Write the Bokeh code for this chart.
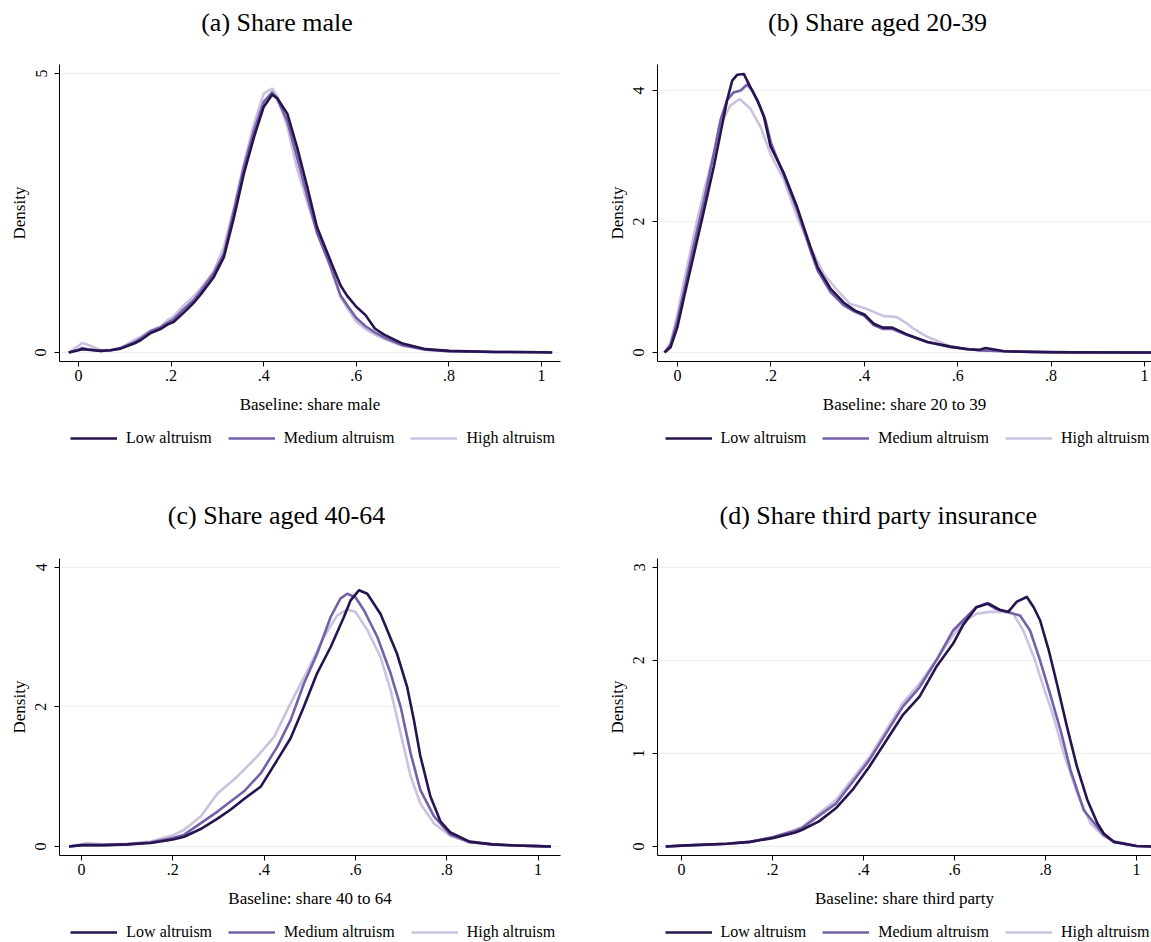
from bokeh.plotting import figure
from bokeh.models import Range1d, FixedTicker, Legend, LegendItem, Label
from bokeh.layouts import column, row
from bokeh.embed import file_html
from bokeh.resources import INLINE

FONT = "Liberation Serif"

series_names = ["Low altruism", "Medium altruism", "High altruism"]
series_colors = ["#26134f", "#7561a8", "#cbc2df"]

x_ticks = [0, 0.2, 0.4, 0.6, 0.8, 1]
x_tick_labels = ["0", ".2", ".4", ".6", ".8", "1"]

titles = ["(a) Share male", "(b) Share aged 20-39", "(c) Share aged 40-64", "(d) Share third party insurance"]
x_labels = ["Baseline: share male", "Baseline: share 20 to 39", "Baseline: share 40 to 64", "Baseline: share third party"]
y_label = "Density"
y_ticks_a = [0, 5]
y_ticks_b = [0, 2, 4]
y_ticks_c = [0, 2, 4]
y_ticks_d = [0, 1, 2, 3]

# ---- (a) share male ----
xa_low = [-0.021, 0.0, 0.008, 0.02, 0.048, 0.07, 0.091, 0.12, 0.134, 0.156, 0.177, 0.192, 0.206, 0.228, 0.25, 0.264, 0.292, 0.314, 0.336, 0.357, 0.379, 0.4, 0.418, 0.429, 0.451, 0.472, 0.494, 0.515, 0.544, 0.566, 0.58, 0.6, 0.62, 0.64, 0.66, 0.7, 0.75, 0.8, 0.9, 1.0, 1.023]
ya_low = [0, 0.04, 0.06, 0.05, 0.03, 0.04, 0.07, 0.16, 0.22, 0.35, 0.42, 0.5, 0.55, 0.72, 0.9, 1.04, 1.35, 1.71, 2.43, 3.2, 3.86, 4.4, 4.62, 4.56, 4.28, 3.68, 2.97, 2.25, 1.65, 1.2, 1.02, 0.82, 0.67, 0.43, 0.32, 0.16, 0.06, 0.03, 0.01, 0.005, 0]
xa_med = xa_low
ya_med = [0, 0.05, 0.08, 0.06, 0.03, 0.04, 0.08, 0.18, 0.25, 0.38, 0.45, 0.53, 0.6, 0.78, 0.95, 1.1, 1.42, 1.77, 2.55, 3.32, 3.98, 4.49, 4.66, 4.55, 4.15, 3.5, 2.8, 2.15, 1.55, 1.02, 0.85, 0.62, 0.47, 0.36, 0.27, 0.13, 0.05, 0.025, 0.01, 0.005, 0]
xa_high = xa_low
ya_high = [0, 0.12, 0.17, 0.14, 0.04, 0.05, 0.08, 0.22, 0.28, 0.4, 0.46, 0.58, 0.65, 0.85, 1.02, 1.15, 1.45, 1.89, 2.61, 3.38, 4.1, 4.64, 4.73, 4.6, 4.05, 3.3, 2.7, 2.15, 1.53, 1.0, 0.8, 0.55, 0.42, 0.32, 0.24, 0.12, 0.05, 0.025, 0.01, 0.005, 0]

# ---- (b) share aged 20-39 ----
xb_low = [-0.028, -0.015, 0.0, 0.014, 0.035, 0.056, 0.078, 0.092, 0.106, 0.117, 0.128, 0.142, 0.156, 0.171, 0.185, 0.199, 0.228, 0.256, 0.285, 0.3, 0.328, 0.356, 0.38, 0.4, 0.42, 0.44, 0.46, 0.49, 0.535, 0.585, 0.62, 0.645, 0.66, 0.675, 0.7, 0.75, 0.85, 1.026]
yb_low = [0, 0.08, 0.4, 0.85, 1.5, 2.15, 2.85, 3.35, 3.85, 4.15, 4.24, 4.25, 4.05, 3.85, 3.6, 3.15, 2.73, 2.22, 1.6, 1.3, 0.97, 0.76, 0.64, 0.58, 0.44, 0.38, 0.38, 0.28, 0.16, 0.09, 0.05, 0.04, 0.07, 0.05, 0.02, 0.01, 0.003, 0]
xb_med = [-0.028, -0.015, 0.0, 0.014, 0.035, 0.056, 0.078, 0.092, 0.106, 0.12, 0.135, 0.149, 0.16, 0.175, 0.188, 0.2, 0.228, 0.256, 0.285, 0.3, 0.328, 0.356, 0.38, 0.4, 0.42, 0.44, 0.46, 0.49, 0.535, 0.585, 0.65, 0.7, 0.8, 1.026]
yb_med = [0, 0.12, 0.5, 0.95, 1.65, 2.3, 3.05, 3.55, 3.85, 3.97, 4.0, 4.09, 4.0, 3.78, 3.55, 3.2, 2.7, 2.18, 1.55, 1.25, 0.92, 0.72, 0.62, 0.56, 0.42, 0.36, 0.36, 0.27, 0.16, 0.08, 0.03, 0.02, 0.005, 0]
xb_high = [-0.028, -0.015, 0.0, 0.014, 0.035, 0.056, 0.078, 0.089, 0.113, 0.133, 0.156, 0.178, 0.199, 0.228, 0.256, 0.285, 0.313, 0.342, 0.37, 0.4, 0.42, 0.44, 0.47, 0.49, 0.506, 0.535, 0.585, 0.65, 0.7, 0.8, 1.026]
yb_high = [0, 0.15, 0.6, 1.1, 1.8, 2.45, 3.05, 3.44, 3.77, 3.87, 3.72, 3.44, 3.03, 2.63, 2.07, 1.6, 1.2, 0.95, 0.74, 0.68, 0.62, 0.56, 0.54, 0.45, 0.36, 0.24, 0.09, 0.03, 0.02, 0.005, 0]

# ---- (c) share aged 40-64 ----
xc_low = [-0.027, 0.0, 0.05, 0.1, 0.152, 0.2, 0.225, 0.261, 0.298, 0.327, 0.356, 0.393, 0.429, 0.458, 0.487, 0.516, 0.546, 0.575, 0.589, 0.608, 0.626, 0.655, 0.691, 0.713, 0.728, 0.742, 0.764, 0.786, 0.808, 0.85, 0.9, 0.95, 1.0, 1.028]
yc_low = [0, 0.02, 0.02, 0.03, 0.05, 0.1, 0.14, 0.25, 0.4, 0.53, 0.68, 0.86, 1.24, 1.55, 2.0, 2.48, 2.86, 3.29, 3.52, 3.67, 3.62, 3.33, 2.76, 2.29, 1.81, 1.3, 0.72, 0.36, 0.2, 0.07, 0.03, 0.015, 0.005, 0]
xc_med = [-0.027, 0.0, 0.05, 0.1, 0.152, 0.2, 0.225, 0.298, 0.356, 0.393, 0.429, 0.458, 0.487, 0.516, 0.546, 0.567, 0.582, 0.6, 0.619, 0.648, 0.677, 0.699, 0.721, 0.742, 0.772, 0.808, 0.85, 0.9, 0.95, 1.0, 1.028]
yc_med = [0, 0.02, 0.02, 0.03, 0.06, 0.12, 0.17, 0.5, 0.79, 1.05, 1.43, 1.81, 2.33, 2.76, 3.29, 3.55, 3.62, 3.57, 3.38, 3.0, 2.48, 2.0, 1.33, 0.81, 0.43, 0.17, 0.06, 0.03, 0.015, 0.005, 0]
xc_high = [-0.027, 0.0, 0.01, 0.05, 0.1, 0.152, 0.2, 0.225, 0.261, 0.298, 0.341, 0.385, 0.422, 0.458, 0.495, 0.531, 0.56, 0.582, 0.6, 0.626, 0.655, 0.677, 0.699, 0.721, 0.742, 0.772, 0.808, 0.85, 0.9, 0.95, 1.0, 1.028]
yc_high = [0, 0.03, 0.05, 0.03, 0.04, 0.07, 0.16, 0.24, 0.43, 0.76, 1.0, 1.29, 1.57, 2.05, 2.52, 3.0, 3.31, 3.39, 3.36, 3.1, 2.71, 2.24, 1.62, 1.0, 0.62, 0.33, 0.15, 0.06, 0.03, 0.015, 0.005, 0]

# ---- (d) share third party insurance ----
xd_low = [-0.035, 0.0, 0.1, 0.15, 0.2, 0.25, 0.265, 0.302, 0.339, 0.376, 0.413, 0.449, 0.486, 0.523, 0.56, 0.597, 0.619, 0.648, 0.674, 0.7, 0.718, 0.737, 0.759, 0.774, 0.788, 0.807, 0.825, 0.847, 0.869, 0.892, 0.914, 0.928, 0.95, 1.0, 1.035]
yd_low = [0, 0.01, 0.03, 0.05, 0.09, 0.15, 0.18, 0.27, 0.41, 0.61, 0.86, 1.13, 1.41, 1.61, 1.93, 2.18, 2.38, 2.57, 2.61, 2.54, 2.52, 2.63, 2.68, 2.57, 2.43, 2.11, 1.75, 1.29, 0.86, 0.5, 0.25, 0.14, 0.05, 0.005, 0]
xd_med = [-0.035, 0.0, 0.1, 0.15, 0.2, 0.25, 0.265, 0.339, 0.413, 0.486, 0.523, 0.56, 0.597, 0.619, 0.648, 0.67, 0.692, 0.715, 0.744, 0.766, 0.788, 0.81, 0.833, 0.855, 0.884, 0.928, 0.95, 1.0, 1.035]
yd_med = [0, 0.01, 0.03, 0.05, 0.1, 0.17, 0.2, 0.46, 0.93, 1.5, 1.71, 2.0, 2.32, 2.43, 2.57, 2.61, 2.55, 2.52, 2.48, 2.32, 2.0, 1.64, 1.25, 0.82, 0.39, 0.125, 0.05, 0.005, 0]
xd_high = [-0.035, 0.0, 0.1, 0.15, 0.2, 0.25, 0.265, 0.339, 0.413, 0.486, 0.523, 0.56, 0.597, 0.626, 0.648, 0.677, 0.707, 0.729, 0.751, 0.774, 0.796, 0.818, 0.84, 0.87, 0.899, 0.928, 0.95, 1.0, 1.035]
yd_high = [0, 0.01, 0.03, 0.05, 0.1, 0.18, 0.21, 0.5, 0.96, 1.54, 1.75, 2.0, 2.27, 2.43, 2.5, 2.52, 2.52, 2.5, 2.32, 2.04, 1.71, 1.39, 1.0, 0.57, 0.25, 0.11, 0.06, 0.005, 0]

NAN = float("nan")


def blank_fig(width, height):
    f = figure(width=width, height=height, x_range=Range1d(0, 1), y_range=Range1d(0, 1),
               output_backend="svg", toolbar_location=None,
               min_border_left=0, min_border_right=0, min_border_top=0, min_border_bottom=0)
    f.axis.visible = False
    f.grid.visible = False
    f.outline_line_color = None
    f.background_fill_color = "white"
    f.border_fill_color = "white"
    return f


def title_fig(text, width, height, cx, cy_from_bottom):
    f = blank_fig(width, height)
    f.add_layout(Label(x=cx, y=cy_from_bottom, x_units="screen", y_units="screen",
                       text=text, text_align="center", text_baseline="middle",
                       text_font=FONT, text_font_size="26px", text_color="black"))
    return f


def legend_fig(width, height, lx, ly):
    f = blank_fig(width, height)
    items = []
    for name, col in zip(series_names, series_colors):
        # legend proxy: a single NaN point draws nothing, but gives the legend its glyph
        r = f.line(x=[NAN], y=[NAN], line_color=col, line_width=2.6)
        items.append(LegendItem(label=name, renderers=[r]))
    legend = Legend(items=items, orientation="horizontal", location=(lx, ly),
                    glyph_width=47, glyph_height=20, label_height=20, label_standoff=9, spacing=16,
                    padding=0, margin=0, border_line_color=None, background_fill_alpha=0,
                    label_text_font=FONT, label_text_font_size="16px", label_text_color="black")
    f.add_layout(legend, "center")
    return f


def plot_fig(xlabel, series, xr, yr, yticks, width, bl, br):
    p = figure(width=width, height=356, x_range=Range1d(*xr), y_range=Range1d(*yr),
               output_backend="svg", toolbar_location=None,
               min_border_left=bl, min_border_right=br, min_border_top=0, min_border_bottom=59)
    p.outline_line_color = None
    p.background_fill_color = "white"
    p.border_fill_color = "white"
    p.xgrid.visible = False
    p.ygrid.grid_line_color = "#e8f0f2"
    p.ygrid.grid_line_width = 1

    p.xaxis.ticker = FixedTicker(ticks=x_ticks)
    p.xaxis.major_label_overrides = dict(zip(x_ticks, x_tick_labels))
    p.yaxis.ticker = FixedTicker(ticks=yticks)
    p.yaxis.major_label_orientation = "vertical"
    for ax in (p.xaxis, p.yaxis):
        ax.axis_line_color = "black"
        ax.axis_line_width = 1
        ax.major_tick_line_color = "black"
        ax.major_tick_in = 0
        ax.major_tick_out = 5
        ax.minor_tick_line_color = None
        ax.major_label_text_font = FONT
        ax.major_label_text_font_size = "16px"
        ax.major_label_text_color = "black"
        ax.axis_label_text_font = FONT
        ax.axis_label_text_font_size = "17px"
        ax.axis_label_text_font_style = "normal"
        ax.axis_label_text_color = "black"
    p.xaxis.axis_label = xlabel
    p.xaxis.major_label_standoff = 3
    p.xaxis.axis_label_standoff = 11
    p.yaxis.axis_label = y_label
    p.yaxis.major_label_standoff = 8
    p.yaxis.axis_label_standoff = 4

    # draw high first so that low altruism lies on top
    for (xs, ys), col in reversed(list(zip(series, series_colors))):
        p.line(xs, ys, line_color=col, line_width=2.6, line_join="round")
    return p


ta = title_fig(titles[0], 580, 64, 276.5, 42.5)
tb = title_fig(titles[1], 571, 64, 297.0, 42.5)
pa = plot_fig(x_labels[0], [(xa_low, ya_low), (xa_med, ya_med), (xa_high, ya_high)],
              (-0.041, 1.041), (-0.161, 5.161), y_ticks_a, 580, 59, 20)
pb = plot_fig(x_labels[1], [(xb_low, yb_low), (xb_med, yb_med), (xb_high, yb_high)],
              (-0.043, 1.015), (-0.137, 4.396), y_ticks_b, 571, 77, 0)
la = legend_fig(580, 36, 70, 8.3)
lb = legend_fig(571, 36, 84.5, 8.3)
tc = title_fig(titles[2], 580, 102, 276.0, 43)
td = title_fig(titles[3], 571, 102, 297.8, 43)
pc = plot_fig(x_labels[2], [(xc_low, yc_low), (xc_med, yc_med), (xc_high, yc_high)],
              (-0.048, 1.049), (-0.129, 4.124), y_ticks_c, 580, 59, 20)
pd = plot_fig(x_labels[3], [(xd_low, yd_low), (xd_med, yd_med), (xd_high, yd_high)],
              (-0.053, 1.033), (-0.0965, 3.093), y_ticks_d, 571, 77, 0)
lc = legend_fig(580, 28, 70.3, 0.3)
ld = legend_fig(571, 28, 84.5, 0.3)

layout = column(row(ta, tb), row(pa, pb), row(la, lb),
                row(tc, td), row(pc, pd), row(lc, ld))
open("out.html", "w").write(file_html(layout, INLINE))
